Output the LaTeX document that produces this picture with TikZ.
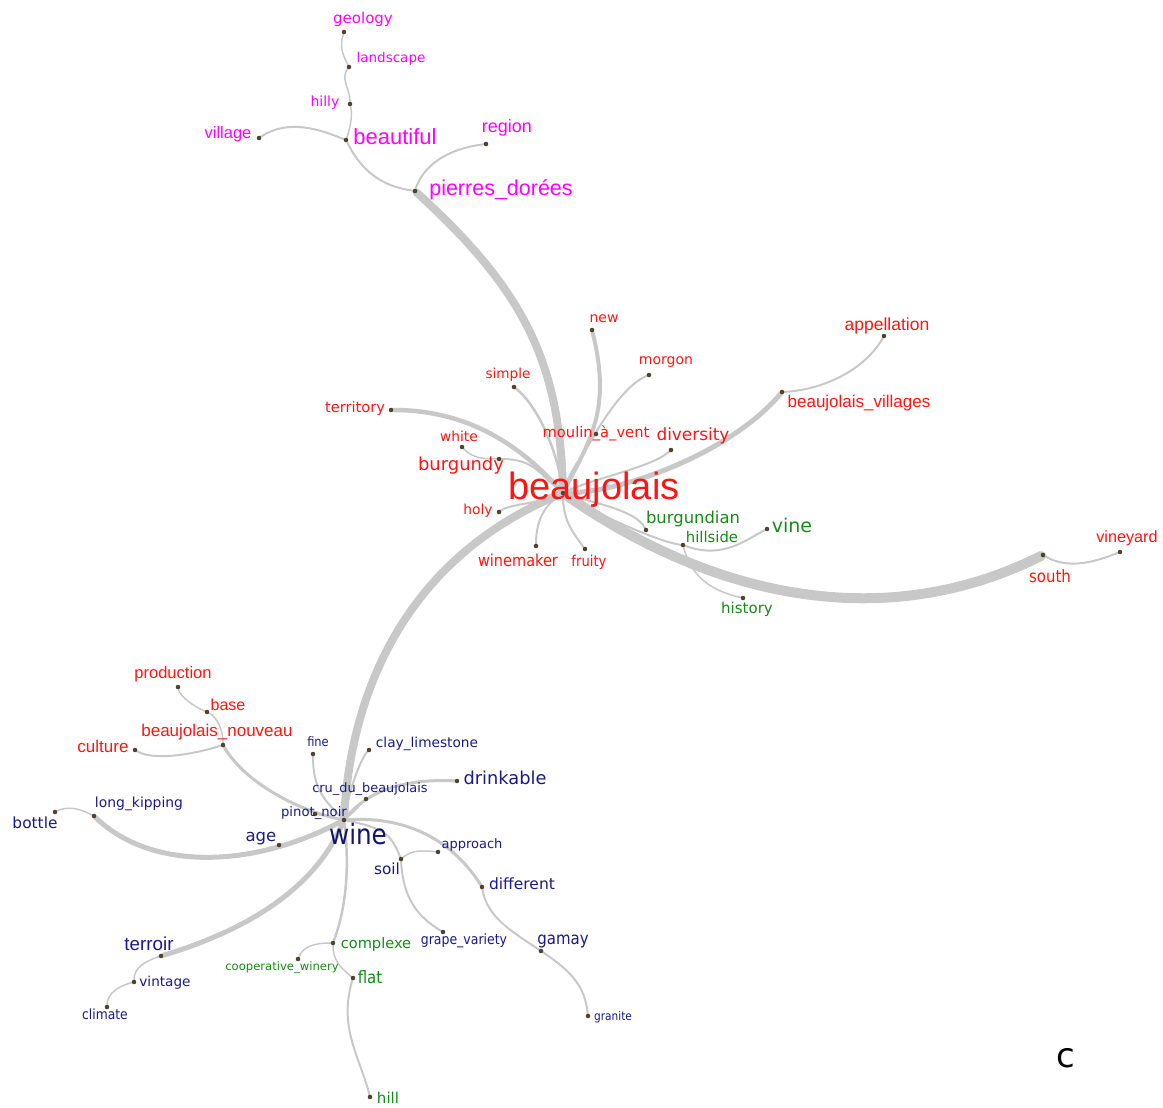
\documentclass[tikz,border=0pt]{standalone}
\usepackage{fontspec}
\usetikzlibrary{backgrounds}
\newfontfamily\verd{DejaVu Sans}
\newfontfamily\arial{Liberation Sans}
\newfontfamily\cond[FakeStretch=0.88]{DejaVu Sans}
\definecolor{edgegray}{RGB}{200,200,200}
\definecolor{dotcolor}{RGB}{85,70,40}
\definecolor{beaured}{RGB}{255,20,20}
\definecolor{geopink}{RGB}{255,0,255}
\definecolor{winenavy}{RGB}{25,25,135}
\definecolor{vinegreen}{RGB}{20,140,20}

\begin{document}
\begin{tikzpicture}[
    x=1pt, y=-1pt,
    dot/.style={circle, fill=dotcolor, draw=dotcolor!60!black, line width=0.4pt, inner sep=0pt, minimum size=4pt},
    lbl/.style={inner sep=0pt, anchor=center},
    vf/.style={font=\verd\fontsize{#1}{#1}\selectfont},
    af/.style={font=\arial\fontsize{#1}{#1}\selectfont},
    cf/.style={font=\cond\fontsize{#1}{#1}\selectfont},
    tie/.style={draw=edgegray, line width=#1, line cap=round},
    tie/.default=2pt
]
    \useasboundingbox (0,0) rectangle (1163,1108);

    % Dots, pink group
    \node[dot] (geology) at (344,32) {};
    \node[dot] (landscape) at (349,67) {};
    \node[dot] (hilly) at (350,104) {};
    \node[dot] (beautiful) at (346,140) {};
    \node[dot] (village) at (259,138) {};
    \node[dot] (region) at (486,144) {};
    \node[dot] (pierres) at (415,191) {};

    % Dots, beaujolais group
    \node[dot] (beaujolais) at (563,493) {};
    \node[dot] (new) at (592,330) {};
    \node[dot] (morgon) at (649,375) {};
    \node[dot] (simple) at (514,387) {};
    \node[dot] (territory) at (391,410) {};
    \node[dot] (white) at (462,447) {};
    \node[dot] (burgundy) at (499,459) {};
    \node[dot] (moulin) at (596,434) {};
    \node[dot] (diversity) at (671,450) {};
    \node[dot] (villages) at (782,392) {};
    \node[dot] (appellation) at (884,336) {};
    \node[dot] (holy) at (499,512) {};
    \node[dot] (winemaker) at (536,546) {};
    \node[dot] (fruity) at (585,549) {};
    \node[dot] (burgundian) at (646,530) {};
    \node[dot] (hillside) at (683,545) {};
    \node[dot] (vine) at (767,529) {};
    \node[dot] (history) at (743,598) {};
    \node[dot] (south) at (1043,555) {};
    \node[dot] (vineyard) at (1120,552) {};

    % Dots, wine group
    \node[dot] (wine) at (344,820) {};
    \node[dot] (production) at (178,687) {};
    \node[dot] (base) at (207,712) {};
    \node[dot] (nouveau) at (223,745) {};
    \node[dot] (culture) at (135,750) {};
    \node[dot] (fine) at (313,754) {};
    \node[dot] (clay) at (369,750) {};
    \node[dot] (cru) at (366,799) {};
    \node[dot] (drinkable) at (457,781) {};
    \node[dot] (pinot) at (315,814) {};
    \node[dot] (age) at (279,845) {};
    \node[dot] (kipping) at (94,816) {};
    \node[dot] (bottle) at (55,812) {};
    \node[dot] (approach) at (438,852) {};
    \node[dot] (soil) at (401,859) {};
    \node[dot] (different) at (482,887) {};
    \node[dot] (grape) at (443,932) {};
    \node[dot] (gamay) at (541,951) {};
    \node[dot] (granite) at (588,1016) {};
    \node[dot] (terroir) at (161,956) {};
    \node[dot] (vintage) at (134,982) {};
    \node[dot] (climate) at (107,1007) {};
    \node[dot] (complexe) at (333,943) {};
    \node[dot] (coop) at (298,959) {};
    \node[dot] (flat) at (353,978) {};
    \node[dot] (hill) at (370,1097) {};

    % Labels
    \node[lbl, vf=15, geopink] (geology-t) at (363,19) {geology};
    \node[lbl, vf=13.5, geopink] (landscape-t) at (391,59) {landscape};
    \node[lbl, vf=14, geopink] (hilly-t) at (325,103) {hilly};
    \node[lbl, af=22, geopink] (beautiful-t) at (395,137) {beautiful};
    \node[lbl, af=16.5, geopink] (village-t) at (228,134) {village};
    \node[lbl, af=18, geopink] (region-t) at (507,128) {region};
    \node[lbl, af=21.5, geopink] (pierres-t) at (501,190) {pierres\_dorées};

    \node[lbl, af=38, beaured] (beaujolais-t) at (594,490) {beaujolais};
    \node[lbl, vf=14, beaured] (new-t) at (604,319) {new};
    \node[lbl, vf=14, beaured] (morgon-t) at (666,362) {morgon};
    \node[lbl, vf=13.6, beaured] (simple-t) at (508,375) {simple};
    \node[lbl, vf=14.6, beaured] (territory-t) at (355,408) {territory};
    \node[lbl, vf=13.8, beaured] (white-t) at (459,436) {white};
    \node[lbl, vf=17.9, beaured] (burgundy-t) at (461,466) {burgundy};
    \node[lbl, vf=14.7, beaured] (moulin-t) at (596,433) {moulin\_à\_vent};
    \node[lbl, vf=16.9, beaured] (diversity-t) at (693,436) {diversity};
    \node[lbl, af=17, beaured] (villages-t) at (859,403) {beaujolais\_villages};
    \node[lbl, af=17.5, beaured] (appellation-t) at (887,326) {appellation};
    \node[lbl, vf=13.8, beaured] (holy-t) at (478,511) {holy};
    \node[lbl, cf=16.5, beaured] (winemaker-t) at (518,560) {winemaker};
    \node[lbl, cf=15, beaured] (fruity-t) at (589,562) {fruity};
    \node[lbl, vf=16.4, vinegreen] (burgundian-t) at (693,519) {burgundian};
    \node[lbl, vf=14.8, vinegreen] (hillside-t) at (712,537) {hillside};
    \node[lbl, vf=19, vinegreen] (vine-t) at (792,525) {vine};
    \node[lbl, vf=15, vinegreen] (history-t) at (747,609) {history};
    \node[lbl, cf=17, beaured] (south-t) at (1050,576) {south};
    \node[lbl, af=16.2, beaured] (vineyard-t) at (1127,538) {vineyard};

    \node[lbl, af=16.5, beaured] (production-t) at (173,674) {production};
    \node[lbl, af=16, beaured] (base-t) at (228,705) {base};
    \node[lbl, af=17, beaured] (nouveau-t) at (217,732) {beaujolais\_nouveau};
    \node[lbl, af=17, beaured] (culture-t) at (103,746) {culture};
    \node[lbl, cf=28, winenavy!80!black] (wine-t) at (358,834) {wine};
    \node[lbl, cf=13, winenavy] (fine-t) at (318,742) {fine};
    \node[lbl, vf=13.7, winenavy] (clay-t) at (427,744) {clay\_limestone};
    \node[lbl, vf=12.9, winenavy] (cru-t) at (370,789) {cru\_du\_beaujolais};
    \node[lbl, vf=17.8, winenavy] (drinkable-t) at (505,778) {drinkable};
    \node[lbl, vf=13.2, winenavy] (pinot-t) at (314,813) {pinot\_noir};
    \node[lbl, vf=16.5, winenavy] (age-t) at (261,839) {age};
    \node[lbl, vf=13.9, winenavy] (kipping-t) at (139,804) {long\_kipping};
    \node[lbl, vf=15.4, winenavy] (bottle-t) at (35,823) {bottle};
    \node[lbl, vf=13, winenavy] (approach-t) at (472,845) {approach};
    \node[lbl, vf=15.3, winenavy] (soil-t) at (387,869) {soil};
    \node[lbl, vf=15.5, winenavy] (different-t) at (522,884) {different};
    \node[lbl, cf=14.2, winenavy] (grape-t) at (464,941) {grape\_variety};
    \node[lbl, cf=17, winenavy] (gamay-t) at (563,942) {gamay};
    \node[lbl, cf=12, winenavy] (granite-t) at (613,1017) {granite};
    \node[lbl, af=18.8, winenavy] (terroir-t) at (149,944) {terroir};
    \node[lbl, vf=13.6, winenavy] (vintage-t) at (165,983) {vintage};
    \node[lbl, cf=14, winenavy] (climate-t) at (105,1014) {climate};
    \node[lbl, vf=14.6, vinegreen] (complexe-t) at (376,944) {complexe};
    \node[lbl, vf=11.6, vinegreen] (coop-t) at (282,967) {cooperative\_winery};
    \node[lbl, cf=17, vinegreen] (flat-t) at (370,977) {flat};
    \node[lbl, vf=15, vinegreen] (hill-t) at (388,1098) {hill};

    \node[lbl, vf=34] (panel) at (1066,1058) {c};

    % Connectors
    \begin{scope}[on background layer]
    \draw[tie=1.5pt] (geology) .. controls +(-5,15) and +(-6,-12) .. (landscape);
    \draw[tie=1.5pt] (landscape) .. controls +(-9,12) and +(0,-16) .. (hilly);
    \draw[tie=1.5pt] (hilly) .. controls +(3,12) and +(4,-12) .. (beautiful);
    \draw[tie] (village) .. controls +(30,-20) and +(-25,-10) .. (beautiful);
    \draw[tie] (beautiful) .. controls +(15,30) and +(-35,-5) .. (pierres);
    \draw[tie] (region) .. controls +(-40,5) and +(8,-25) .. (pierres);
    \draw[tie=8pt] (pierres) .. controls +(110,100) and +(-3,-130) .. (beaujolais);

    \draw[tie=4pt] (new) .. controls +(20,80) and +(27,-53) .. (beaujolais);
    \draw[tie] (morgon) .. controls +(-30,12) and +(25,-50) .. (beaujolais);
    \draw[tie=1.5pt] (moulin) .. controls +(-10,15) and +(5,-20) .. (beaujolais);
    \draw[tie=2.5pt] (simple) .. controls +(25,20) and +(-5,-40) .. (beaujolais);
    \draw[tie=4.5pt] (territory) .. controls +(80,0) and +(-40,-45) .. (beaujolais);
    \draw[tie=1.5pt] (white) .. controls +(10,10) and +(-20,0) .. (burgundy);
    \draw[tie] (burgundy) .. controls +(35,0) and +(-25,-20) .. (beaujolais);
    \draw[tie] (diversity) .. controls +(-20,18) and +(30,-15) .. (beaujolais);
    \draw[tie=5pt] (villages) .. controls +(-50,60) and +(60,0) .. (beaujolais);
    \draw[tie] (appellation) .. controls +(-20,35) and +(40,-2) .. (villages);
    \draw[tie] (holy) .. controls +(10,-8) and +(-20,10) .. (beaujolais);
    \draw[tie] (winemaker) .. controls +(0,-30) and +(-15,10) .. (beaujolais);
    \draw[tie] (fruity) .. controls +(-15,-20) and +(0,25) .. (beaujolais);
    \draw[tie] (burgundian) .. controls +(-10,-20) and +(30,10) .. (beaujolais);
    \draw[tie] (hillside) .. controls +(-20,-2) and +(40,25) .. (beaujolais);
    \draw[tie] (hillside) .. controls +(40,15) and +(-20,10) .. (vine);
    \draw[tie=1.5pt] (hillside) .. controls +(8,30) and +(-35,-8) .. (history);
    \draw[tie=10pt] (beaujolais) .. controls +(135,95) and +(-170,85) .. (south);
    \draw[tie] (south) .. controls +(25,15) and +(-25,10) .. (vineyard);
    \draw[tie=8pt] (wine) .. controls +(6,-120) and +(-163,67) .. (beaujolais);

    \draw[tie=3pt] (nouveau) .. controls +(20,35) and +(-50,-10) .. (wine);
    \draw[tie] (culture) .. controls +(20,12) and +(-25,8) .. (nouveau);
    \draw[tie=1.5pt] (base) .. controls +(10,5) and +(0,-15) .. (nouveau);
    \draw[tie=1.5pt] (production) .. controls +(2,10) and +(-12,-5) .. (base);
    \draw[tie] (fine) .. controls +(0,35) and +(-20,-20) .. (wine);
    \draw[tie] (clay) .. controls +(-8,8) and +(5,-30) .. (wine);
    \draw[tie=1.5pt] (cru) .. controls +(-8,8) and +(10,-8) .. (wine);
    \draw[tie=3pt] (drinkable) .. controls +(-60,-3) and +(20,-25) .. (wine);
    \draw[tie=1.5pt] (pinot) -- (wine);
    \draw[tie] (age) .. controls +(30,-5) and +(-15,10) .. (wine);
    \draw[tie=5pt] (kipping) .. controls +(56,54) and +(-94,50) .. (wine);
    \draw[tie=1.5pt] (bottle) .. controls +(12,-6) and +(-15,-8) .. (kipping);
    \draw[tie=1.5pt] (approach) .. controls +(-20,-2) and +(10,-8) .. (soil);
    \draw[tie] (soil) .. controls +(-10,-25) and +(40,8) .. (wine);
    \draw[tie=3pt] (different) .. controls +(-25,-40) and +(70,-5) .. (wine);
    \draw[tie] (grape) .. controls +(-25,-15) and +(2,40) .. (soil);
    \draw[tie] (gamay) .. controls +(-30,-20) and +(5,30) .. (different);
    \draw[tie] (granite) .. controls +(-3,-30) and +(30,20) .. (gamay);
    \draw[tie=5pt] (terroir) .. controls +(100,-30) and +(-25,60) .. (wine);
    \draw[tie=1.5pt] (vintage) .. controls +(0,-15) and +(-15,5) .. (terroir);
    \draw[tie=1.5pt] (climate) .. controls +(0,-15) and +(-12,3) .. (vintage);
    \draw[tie=2.5pt] (complexe) .. controls +(15,-40) and +(5,40) .. (wine);
    \draw[tie=1.5pt] (coop) .. controls +(5,-12) and +(-20,0) .. (complexe);
    \draw[tie=1.5pt] (complexe) .. controls +(0,18) and +(-12,-10) .. (flat);
    \draw[tie] (flat) .. controls +(-15,50) and +(-10,-40) .. (hill);
    \end{scope}
\end{tikzpicture}
\end{document}
